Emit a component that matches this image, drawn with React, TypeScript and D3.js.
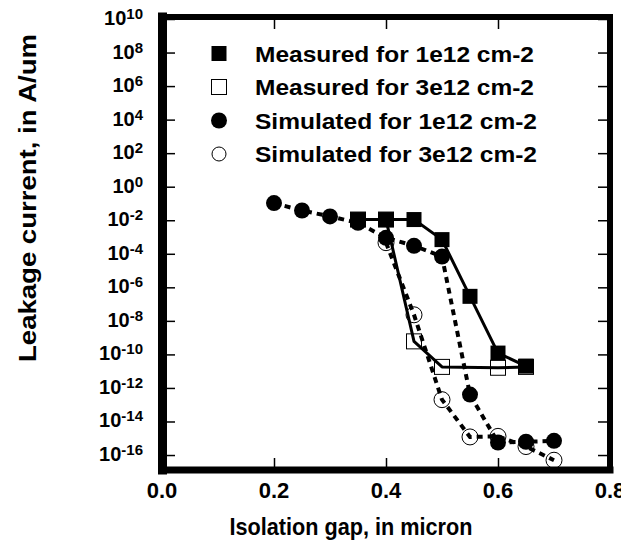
import { useEffect, useRef } from "react";
import * as d3 from "d3";

// isolation gap (micron) and leakage current (A/um)
const meas1Gap = [0.35, 0.4, 0.45, 0.5, 0.55, 0.6, 0.65];
const meas1Val = [1.1e-2, 1.1e-2, 1.1e-2, 7e-4, 2.9e-7, 1.2e-10, 2e-11];

const meas3Gap = [0.35, 0.4, 0.45, 0.5, 0.6, 0.65];
const meas3Val = [1.1e-2, 1.1e-2, 6e-10, 1.8e-11, 1.6e-11, 1.8e-11];

const sim1Gap = [0.2, 0.25, 0.3, 0.35, 0.4, 0.45, 0.5, 0.55, 0.6, 0.65, 0.7];
const sim1Val = [1.05e-1, 3.8e-2, 1.7e-2, 7e-3, 9e-4, 3e-4, 6.8e-5, 4e-13, 5.6e-16, 6.2e-16, 7e-16];

const sim3Gap = [0.4, 0.45, 0.5, 0.55, 0.6, 0.65, 0.7];
const sim3Val = [4.6e-4, 2.3e-8, 2e-13, 1.2e-15, 1.3e-15, 3.2e-16, 4.9e-17];

const xTicks = [0, 0.2, 0.4, 0.6, 0.8];
const yTickExps = [10, 8, 6, 4, 2, 0, -2, -4, -6, -8, -10, -12, -14, -16];

const legendLabels = [
  "Measured for 1e12 cm-2",
  "Measured for 3e12 cm-2",
  "Simulated for 1e12 cm-2",
  "Simulated for 3e12 cm-2",
];

const FONT = "'Liberation Sans', Arial, Helvetica, sans-serif";

const App = () => {
  const svgRef = useRef<SVGSVGElement>(null);

  useEffect(() => {
    if (!svgRef.current) return;
    const svg = d3.select(svgRef.current);
    svg.selectAll("*").remove();

    const x = d3.scaleLinear().domain([0, 0.8]).range([162, 610]);
    const y = d3.scaleLog().domain([1e-17, 1e10]).range([471.8, 19]);

    const zip = (g: number[], v: number[]) => g.map((d, i) => ({ x: d, y: v[i] }));
    const meas1 = zip(meas1Gap, meas1Val);
    const meas3 = zip(meas3Gap, meas3Val);
    const sim1 = zip(sim1Gap, sim1Val);
    const sim3 = zip(sim3Gap, sim3Val);

    // clip so the last x label gets cut like the scan
    svg
      .append("defs")
      .append("clipPath")
      .attr("id", "pageclip")
      .append("rect")
      .attr("x", 0)
      .attr("y", 0)
      .attr("width", 621)
      .attr("height", 544);

    // inward ticks on all four sides
    const yTickVals = yTickExps.map((e) => Math.pow(10, e));
    const tickStyle = (g: any) => {
      g.select(".domain").remove();
      g.selectAll("line").attr("stroke", "#000").attr("stroke-width", 1.5);
    };
    svg
      .append("g")
      .attr("transform", "translate(166,0)")
      .call(d3.axisRight(y).tickValues(yTickVals).tickSize(9).tickFormat(() => ""))
      .call(tickStyle);
    svg
      .append("g")
      .attr("transform", "translate(607,0)")
      .call(d3.axisLeft(y).tickValues(yTickVals).tickSize(9).tickFormat(() => ""))
      .call(tickStyle);
    svg
      .append("g")
      .attr("transform", "translate(0,467)")
      .call(d3.axisTop(x).tickValues([0.2, 0.4, 0.6]).tickSize(9).tickFormat(() => ""))
      .call(tickStyle);
    svg
      .append("g")
      .attr("transform", "translate(0,20)")
      .call(d3.axisBottom(x).tickValues([0.2, 0.4, 0.6]).tickSize(9).tickFormat(() => ""))
      .call(tickStyle);

    // frame
    const frame = svg.append("g").attr("stroke", "#000").attr("stroke-linecap", "square");
    frame.append("line").attr("x1", 162).attr("x2", 610).attr("y1", 17).attr("y2", 17).attr("stroke-width", 6);
    frame.append("line").attr("x1", 162).attr("x2", 610).attr("y1", 470).attr("y2", 470).attr("stroke-width", 7);
    frame.append("line").attr("x1", 162.5).attr("x2", 162.5).attr("y1", 17).attr("y2", 470).attr("stroke-width", 9);
    frame.append("line").attr("x1", 610).attr("x2", 610).attr("y1", 17).attr("y2", 470).attr("stroke-width", 6);

    // y tick labels 10^n
    const yLab = svg
      .append("g")
      .attr("font-family", FONT)
      .attr("font-weight", "bold")
      .attr("fill", "#000")
      .selectAll("text")
      .data(yTickExps)
      .join("text")
      .attr("x", 143)
      .attr("y", (d) => y(Math.pow(10, d)) + 6)
      .attr("text-anchor", "end");
    yLab.append("tspan").attr("font-size", 20).text("10");
    yLab
      .append("tspan")
      .attr("font-size", 15)
      .attr("dy", -6)
      .text((d) => String(d));

    // x tick labels
    svg
      .append("g")
      .attr("clip-path", "url(#pageclip)")
      .selectAll("text")
      .data(xTicks)
      .join("text")
      .attr("x", (d) => x(d))
      .attr("y", 498)
      .attr("text-anchor", "middle")
      .attr("font-family", FONT)
      .attr("font-weight", "bold")
      .attr("font-size", 22)
      .text((d) => d.toFixed(1));

    // axis titles
    svg
      .append("text")
      .attr("x", 351)
      .attr("y", 535)
      .attr("text-anchor", "middle")
      .attr("font-family", FONT)
      .attr("font-weight", "bold")
      .attr("font-size", 24)
      .attr("textLength", 243)
      .attr("lengthAdjust", "spacingAndGlyphs")
      .text("Isolation gap, in micron");

    svg
      .append("text")
      .attr("transform", "translate(36,198) rotate(-90)")
      .attr("text-anchor", "middle")
      .attr("font-family", FONT)
      .attr("font-weight", "bold")
      .attr("font-size", 24)
      .attr("textLength", 328)
      .attr("lengthAdjust", "spacingAndGlyphs")
      .text("Leakage current, in A/um");

    // lines
    const line = d3
      .line<{ x: number; y: number }>()
      .x((d) => x(d.x))
      .y((d) => y(d.y));

    const solid = (data: { x: number; y: number }[]) =>
      svg
        .append("path")
        .attr("d", line(data))
        .attr("fill", "none")
        .attr("stroke", "#000")
        .attr("stroke-width", 3)
        .attr("stroke-linejoin", "round");
    const dashed = (data: { x: number; y: number }[]) =>
      svg
        .append("path")
        .attr("d", line(data))
        .attr("fill", "none")
        .attr("stroke", "#000")
        .attr("stroke-width", 4)
        .attr("stroke-dasharray", "6,5");

    solid(meas3);
    solid(meas1);
    dashed(sim3);
    dashed(sim1);

    // markers
    const sq = 15;
    const r = 8;
    svg
      .append("g")
      .selectAll("rect")
      .data(meas3)
      .join("rect")
      .attr("x", (d) => x(d.x) - sq / 2)
      .attr("y", (d) => y(d.y) - sq / 2)
      .attr("width", sq)
      .attr("height", sq)
      .attr("fill", "none")
      .attr("stroke", "#000")
      .attr("stroke-width", 1);
    svg
      .append("g")
      .selectAll("circle")
      .data(sim3)
      .join("circle")
      .attr("cx", (d) => x(d.x))
      .attr("cy", (d) => y(d.y))
      .attr("r", r)
      .attr("fill", "none")
      .attr("stroke", "#000")
      .attr("stroke-width", 1);
    svg
      .append("g")
      .selectAll("circle")
      .data(sim1)
      .join("circle")
      .attr("cx", (d) => x(d.x))
      .attr("cy", (d) => y(d.y))
      .attr("r", r)
      .attr("fill", "#000");
    svg
      .append("g")
      .selectAll("rect")
      .data(meas1)
      .join("rect")
      .attr("x", (d) => x(d.x) - sq / 2)
      .attr("y", (d) => y(d.y) - sq / 2)
      .attr("width", sq)
      .attr("height", sq)
      .attr("fill", "#000");

    // legend
    const legendY = [53.5, 87, 120.5, 154];
    const lg = svg.append("g");
    legendLabels.forEach((label, i) => {
      const cy = legendY[i];
      const cx = 219;
      if (i < 2) {
        lg.append("rect")
          .attr("x", cx - 7.5)
          .attr("y", cy - 7.5)
          .attr("width", 15)
          .attr("height", 15)
          .attr("fill", i === 0 ? "#000" : "none")
          .attr("stroke", "#000")
          .attr("stroke-width", i === 0 ? 0 : 1);
      } else {
        lg.append("circle")
          .attr("cx", cx)
          .attr("cy", cy)
          .attr("r", i === 2 ? 8 : 7)
          .attr("fill", i === 2 ? "#000" : "none")
          .attr("stroke", "#000")
          .attr("stroke-width", i === 2 ? 0 : 1);
      }
      lg.append("text")
        .attr("x", 255)
        .attr("y", cy + 8)
        .attr("font-family", FONT)
        .attr("font-weight", "bold")
        .attr("font-size", 22.5)
        .attr("textLength", i < 2 ? 279 : 282)
        .attr("lengthAdjust", "spacingAndGlyphs")
        .text(label);
    });
  }, []);

  return (
    <div
      style={{
        position: "absolute",
        left: 0,
        top: 0,
        width: 633,
        height: 544,
        background: "#fff",
        overflow: "hidden",
      }}
    >
      <svg ref={svgRef} width={633} height={544} style={{ display: "block" }} />
    </div>
  );
};

export default App;
